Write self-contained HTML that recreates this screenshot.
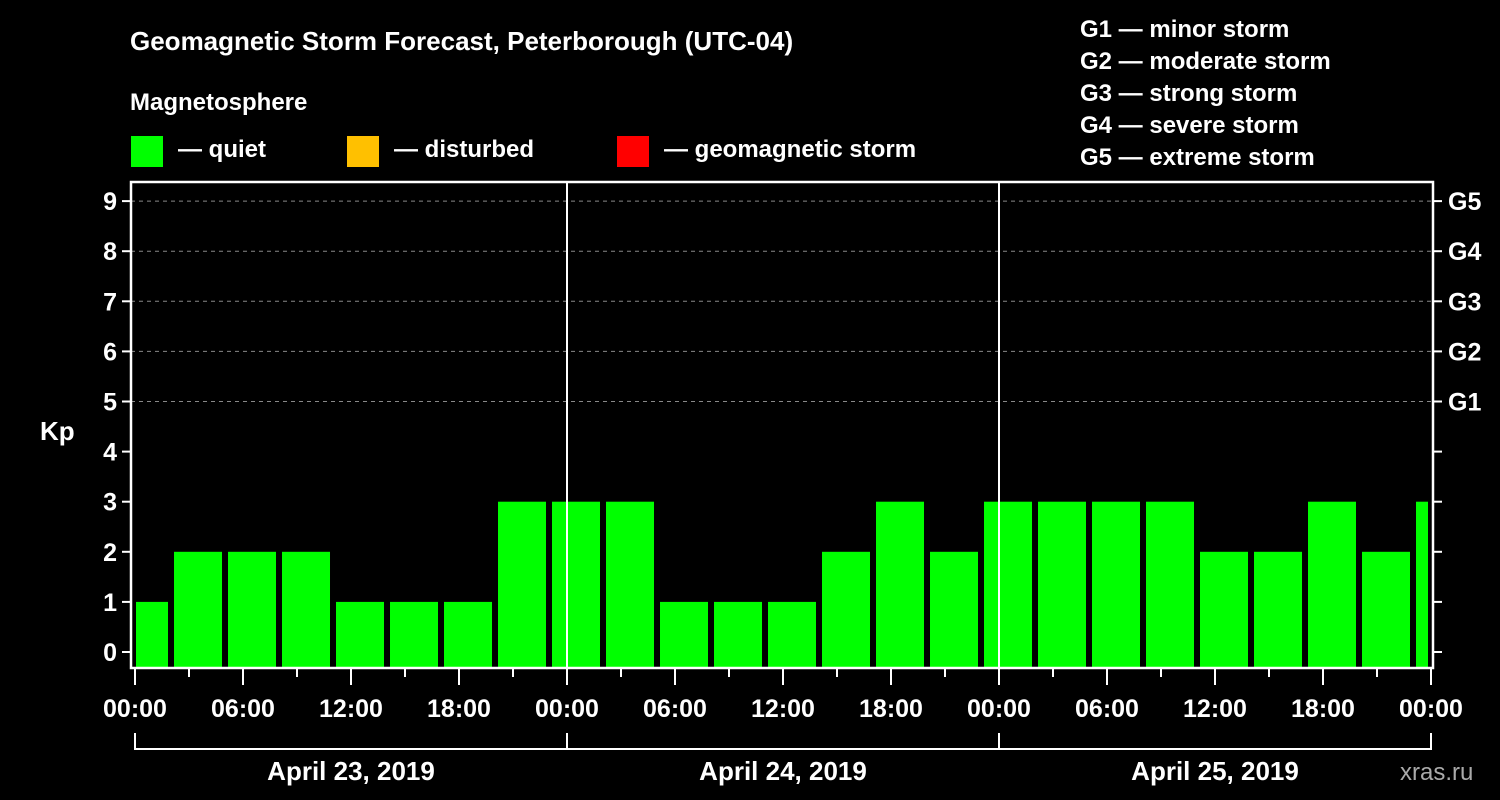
<!DOCTYPE html>
<html><head><meta charset="utf-8"><style>
html,body{margin:0;padding:0;background:#000;}
svg{display:block;font-family:"Liberation Sans",Arial,sans-serif;font-weight:bold;}
</style></head><body>
<svg id="chart" width="1500" height="800" viewBox="0 0 1500 800">
<rect x="0" y="0" width="1500" height="800" fill="#000"/>
<text x="130" y="50" fill="#fff" font-size="26">Geomagnetic Storm Forecast, Peterborough (UTC-04)</text>
<text x="130" y="110" fill="#fff" font-size="24">Magnetosphere</text>
<g><rect x="131" y="136" width="32" height="31" fill="#00ff00"/><text x="178" y="157" fill="#fff" font-size="24">— quiet</text></g>
<g><rect x="347" y="136" width="32" height="31" fill="#ffc000"/><text x="394" y="157" fill="#fff" font-size="24">— disturbed</text></g>
<g><rect x="617" y="136" width="32" height="31" fill="#ff0000"/><text x="664" y="157" fill="#fff" font-size="24">— geomagnetic storm</text></g>
<g fill="#fff" font-size="24">
<text x="1080" y="37">G1 — minor storm</text>
<text x="1080" y="69">G2 — moderate storm</text>
<text x="1080" y="101">G3 — strong storm</text>
<text x="1080" y="133">G4 — severe storm</text>
<text x="1080" y="165">G5 — extreme storm</text>
</g>
<text x="40" y="440" fill="#fff" font-size="26">Kp</text>
<text x="1400" y="780" fill="#aaa" font-size="24" font-weight="normal">xras.ru</text>
<g id="grid"></g>
<g id="bars"></g>
<g id="axes"></g>
</svg>
<script>
const kpValues=[1,2,2,2,1,1,1,3,3,3,1,1,1,2,3,2,3,3,3,3,2,2,3,2,3];
const barStartHours=[-0.833];
const yTicks=[0,1,2,3,4,5,6,7,8,9];
const gLabels=["G1","G2","G3","G4","G5"];
const gLevels=[5,6,7,8,9];
const xTickLabels=["00:00","06:00","12:00","18:00","00:00","06:00","12:00","18:00","00:00","06:00","12:00","18:00","00:00"];
const dayLabels=["April 23, 2019","April 24, 2019","April 25, 2019"];
const NS="http://www.w3.org/2000/svg";
const L=131,R=1433,T=182,B=668,X0=135,X1=1431,HOURS=72;
const xs=h=>X0+(X1-X0)*h/HOURS;
const ys=v=>652-v*50.1;
function mk(tag,attrs,parent,txt){const e=document.createElementNS(NS,tag);for(const k in attrs)e.setAttribute(k,attrs[k]);if(txt!==undefined)e.textContent=txt;document.getElementById(parent).appendChild(e);return e;}
gLevels.forEach(v=>{
 const e=mk('line',{x1:L,x2:R,y1:ys(v),y2:ys(v),stroke:'#888','stroke-dasharray':'4,4','stroke-width':1},'grid');
 
 
});
kpValues.forEach((v,i)=>{
 const h0=barStartHours[0]+3*i;
 let x0=xs(h0),x1=xs(h0)+48;
 x0=Math.max(x0,L+5);x1=Math.min(x1,R-5);
 const c=v>=5?'#ff0000':(v>=4?'#ffc000':'#00ff00');
 const e=mk('rect',{x:x0,y:ys(v),width:x1-x0,height:B-ys(v),fill:c},'bars');
 
 
});
// day separators
[1,2].forEach(d=>{
 const e=mk('line',{x1:xs(24*d),x2:xs(24*d),y1:T,y2:B,stroke:'#fff','stroke-width':2},'axes');
 
 
});
const box=mk('rect',{x:L,y:T,width:R-L,height:B-T,fill:'none',stroke:'#fff','stroke-width':2.5},'axes');


yTicks.forEach(v=>{
 const y=ys(v);
 mk('line',{x1:L-9,x2:L,y1:y,y2:y,stroke:'#fff','stroke-width':2},'axes');
 mk('line',{x1:R,x2:R+9,y1:y,y2:y,stroke:'#fff','stroke-width':2},'axes');
 const t=mk('text',{x:L-14,y:y+9,fill:'#fff','font-size':25,'text-anchor':'end'},'axes',String(v));
 
 
});
gLabels.forEach((g,i)=>{
 const t=mk('text',{x:1448,y:ys(gLevels[i])+9,fill:'#fff','font-size':25},'axes',g);
 
 
});
for(let h=0;h<=HOURS;h+=3){
 const major=h%6===0;
 mk('line',{x1:xs(h),x2:xs(h),y1:B,y2:major?B+17:B+9,stroke:'#fff','stroke-width':2},'axes');
}
xTickLabels.forEach((s,i)=>{
 const t=mk('text',{x:xs(i*6),y:717,fill:'#fff','font-size':25,'text-anchor':'middle'},'axes',s);
 
 
});
mk('line',{x1:xs(0),x2:xs(HOURS),y1:749,y2:749,stroke:'#fff','stroke-width':2},'axes');
for(let d=0;d<=3;d++) mk('line',{x1:xs(24*d),x2:xs(24*d),y1:733,y2:750,stroke:'#fff','stroke-width':2},'axes');
dayLabels.forEach((s,i)=>{
 const t=mk('text',{x:xs(24*i+12),y:780,fill:'#fff','font-size':26,'text-anchor':'middle'},'axes',s);
 
 
});
</script>
</body></html>
